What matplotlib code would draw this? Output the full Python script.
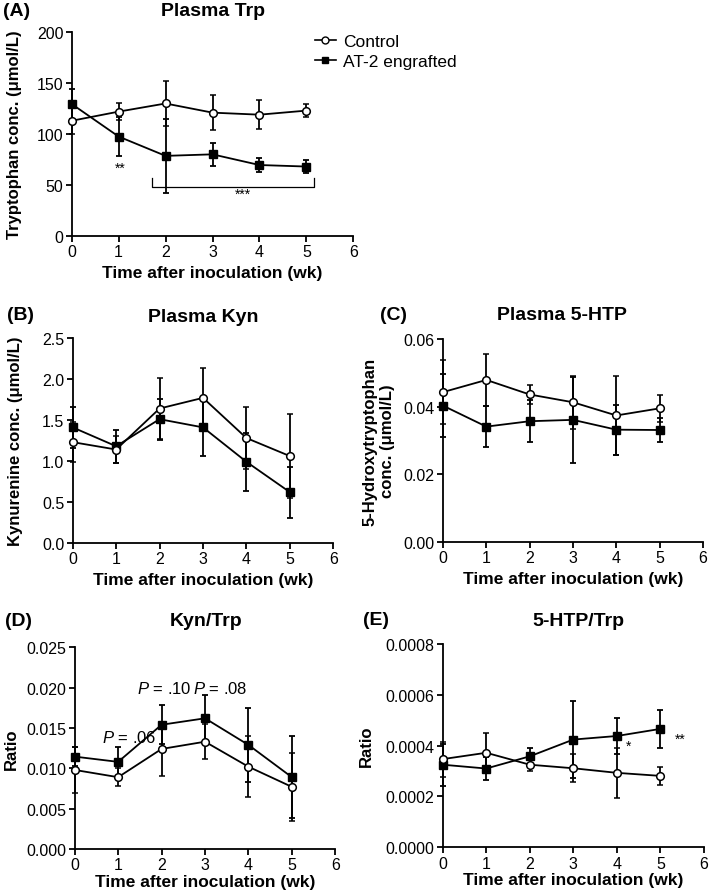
import numpy as np
import matplotlib.pyplot as plt
import matplotlib.lines as mlines

plt.rcParams['font.family'] = ['Liberation Sans', 'DejaVu Sans']
plt.rcParams['mathtext.fontset'] = 'custom'
plt.rcParams['mathtext.it'] = 'Liberation Sans:italic'
plt.rcParams['mathtext.rm'] = 'Liberation Sans'

weeks = [0, 1, 2, 3, 4, 5]

# (A) plasma Trp (umol/L)
trp_ctrl = [113, 122, 130, 121, 119, 123]
trp_ctrl_err = [13, 8, 22, 17, 14, 6.5]
trp_at2 = [129.5, 97.5, 78.5, 80, 69.5, 68]
trp_at2_err = [15, 19.5, 36.5, 11.5, 7, 6]

# (B) plasma Kyn (umol/L)
kyn_ctrl = [1.23, 1.14, 1.64, 1.77, 1.28, 1.06]
kyn_ctrl_err = [0.24, 0.16, 0.37, 0.36, 0.38, 0.51]
kyn_at2 = [1.41, 1.18, 1.51, 1.41, 0.99, 0.62]
kyn_at2_err = [0.25, 0.2, 0.25, 0.35, 0.35, 0.31]

# (C) plasma 5-HTP (umol/L)
htp_ctrl = [0.0443, 0.0479, 0.0436, 0.0413, 0.0374, 0.0395]
htp_ctrl_err = [0.0095, 0.0078, 0.0027, 0.0079, 0.0118, 0.004]
htp_at2 = [0.0403, 0.0341, 0.0357, 0.0361, 0.0332, 0.0331]
htp_at2_err = [0.0093, 0.006, 0.0062, 0.0127, 0.0074, 0.0036]

# (D) Kyn/Trp ratio
kt_ctrl = [0.0098, 0.0089, 0.0124, 0.0133, 0.0102, 0.0077]
kt_ctrl_err = [0.0028, 0.0011, 0.0033, 0.0022, 0.0038, 0.0042]
kt_at2 = [0.01145, 0.0108, 0.0154, 0.0162, 0.0129, 0.0089]
kt_at2_err = [0.0012, 0.0019, 0.0024, 0.0029, 0.0046, 0.0051]

# (E) 5-HTP/Trp ratio
ht_ctrl = [0.000347, 0.000372, 0.000325, 0.000311, 0.000293, 0.000281]
ht_ctrl_err = [0.000069, 0.000079, 0.000026, 0.000055, 0.000099, 0.000034]
ht_at2 = [0.000325, 0.00031, 0.000358, 0.000424, 0.000438, 0.000466]
ht_at2_err = [0.000082, 0.000045, 0.000032, 0.000153, 0.000071, 0.000076]

W, H = 709, 895
fig = plt.figure(figsize=(W / 100, H / 100), dpi=100)


def box(x0, x1, y0, y1):
    return [x0 / W, 1 - y1 / H, (x1 - x0) / W, (y1 - y0) / H]


def ftext(x, y, s, **kw):
    # figure text placed in pixel coords from top-left
    fig.text(x / W, 1 - y / H, s, fontsize=14, fontweight='bold', va='center', **kw)


def panel(rect, ctrl, ctrl_err, at2, at2_err, ylim, yticks, yfmt, ylabel, ylab_x, xpad=4):
    ax = fig.add_axes(rect)
    ax.errorbar(weeks, at2, yerr=at2_err, color='black', lw=1.3, elinewidth=1.3,
                capsize=2.5, capthick=1.3, marker='s', ms=5.5, mfc='black', mec='black',
                zorder=3, clip_on=False)
    ax.errorbar(weeks, ctrl, yerr=ctrl_err, color='black', lw=1.3, elinewidth=1.3,
                capsize=2.5, capthick=1.3, marker='o', ms=5.5, mfc='white', mec='black',
                mew=1.1, zorder=4, clip_on=False)
    ax.set_xlim(0, 6)
    ax.set_ylim(*ylim)
    ax.set_xticks(range(7))
    ax.set_yticks(yticks)
    ax.set_yticklabels([yfmt.format(v) for v in yticks])
    for s in ['top', 'right']:
        ax.spines[s].set_visible(False)
    for s in ['left', 'bottom']:
        ax.spines[s].set_linewidth(1.3)
    ax.tick_params(direction='out', length=4, width=1.3, labelsize=11.5, pad=2)
    ax.set_xlabel('Time after inoculation (wk)', fontsize=12.5, fontweight='bold', labelpad=xpad)
    ax.set_ylabel(ylabel, fontsize=12, fontweight='bold')
    ax.yaxis.set_label_coords(ylab_x, 0.5)
    return ax


axA = panel(box(71.7, 353.3, 33.3, 236.7), trp_ctrl, trp_ctrl_err, trp_at2, trp_at2_err,
            (0, 200), [0, 50, 100, 150, 200], '{:g}',
            'Tryptophan conc. (\u03bcmol/L)', -0.176)
ftext(3, 11, '(A)', ha='left')
ftext(213, 12, 'Plasma Trp', ha='center')
axA.plot([1.72, 1.72, 5.17, 5.17], [56.5, 47.5, 47.5, 56.5], color='black', lw=0.9)
axA.text(3.64, 41, '***', ha='center', va='center', fontsize=10)
axA.text(1.03, 66.5, '**', ha='center', va='center', fontsize=10)

axB = panel(box(72.7, 333.3, 339, 544), kyn_ctrl, kyn_ctrl_err, kyn_at2, kyn_at2_err,
            (0, 2.5), [0, 0.5, 1.0, 1.5, 2.0, 2.5], '{:.1f}',
            'Kynurenine conc. (\u03bcmol/L)', -0.19)
ftext(7, 315, '(B)', ha='left')
ftext(203, 317, 'Plasma Kyn', ha='center')

axC = panel(box(443, 703, 340, 543), htp_ctrl, htp_ctrl_err, htp_at2, htp_at2_err,
            (0, 0.06), [0, 0.02, 0.04, 0.06], '{:.2f}',
            '5-Hydroxytryptophan\nconc. (\u03bcmol/L)', -0.185)
ftext(380, 315, '(C)', ha='left')
ftext(562, 316, 'Plasma 5-HTP', ha='center')

axD = panel(box(74.7, 335.3, 648.3, 850), kt_ctrl, kt_ctrl_err, kt_at2, kt_at2_err,
            (0, 0.025), [0, 0.005, 0.01, 0.015, 0.02, 0.025], '{:.3f}',
            'Ratio', -0.214, xpad=1)
ftext(5, 622, '(D)', ha='left')
ftext(206, 622, 'Kyn/Trp', ha='center')
axD.text(0.62, 0.0139, '$P$ = .06', fontsize=12, ha='left', va='center')
axD.text(1.44, 0.0200, '$P$ = .10', fontsize=12, ha='left', va='center')
axD.text(2.73, 0.0200, '$P$ = .08', fontsize=12, ha='left', va='center')

axE = panel(box(442.7, 704, 645, 848.3), ht_ctrl, ht_ctrl_err, ht_at2, ht_at2_err,
            (0, 0.0008), [0, 0.0002, 0.0004, 0.0006, 0.0008], '{:.4f}',
            'Ratio', -0.263, xpad=1)
ftext(363, 621, '(E)', ha='left')
ftext(578, 622, '5-HTP/Trp', ha='center')
axE.text(4.26, 0.000398, '*', ha='center', va='center', fontsize=10)
axE.text(5.45, 0.000428, '**', ha='center', va='center', fontsize=10)

h_ctrl = mlines.Line2D([], [], color='black', lw=1.2, marker='o', ms=5, mfc='white', mec='black')
h_at2 = mlines.Line2D([], [], color='black', lw=1.2, marker='s', ms=5, mfc='black')
fig.legend([h_ctrl, h_at2], ['Control', 'AT-2 engrafted'], loc='upper left',
           bbox_to_anchor=(308 / W, 1 - 28 / H), frameon=False, fontsize=12.5,
           handlelength=1.2, handletextpad=0.4, labelspacing=0.25, borderaxespad=0)

fig.savefig('out.png', dpi=100)
